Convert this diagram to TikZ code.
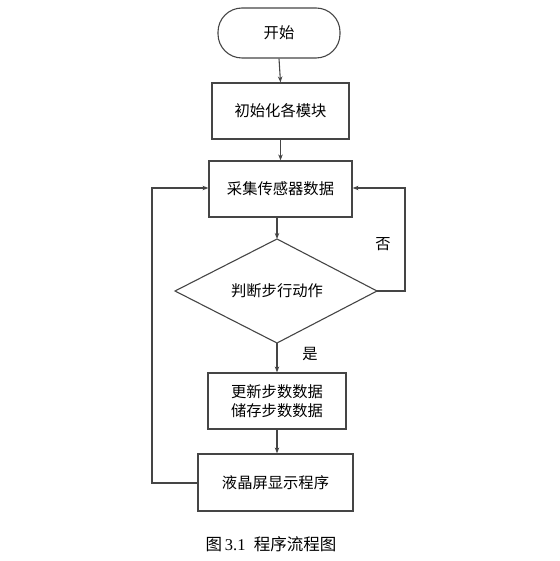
\documentclass[tikz,border=0pt]{standalone}
\usepackage{fontspec}
\setmainfont{Liberation Serif}
\newfontfamily\cjk{Noto Sans CJK SC}
\usetikzlibrary{shapes.geometric,arrows.meta}
\definecolor{lc}{HTML}{454545}
\begin{document}
\begin{tikzpicture}[x=1pt,y=-1pt,
  every node/.style={font=\cjk\fontsize{15.3}{18}\selectfont, text=black},
  box/.style={draw=lc, line width=1.2pt, minimum width=#1, minimum height=56pt, inner sep=0pt, align=center},
  term/.style={draw=lc, line width=1.1pt, rounded corners=24pt, minimum width=122pt, minimum height=50pt, inner sep=0pt},
  dia/.style={draw=lc, line width=1.1pt},
  conn/.style={draw=lc, line width=1.1pt, -{Stealth[length=6pt,width=4.5pt]}},
  lab/.style={font=\cjk\fontsize{15.3}{18}\selectfont}]
\useasboundingbox (0,0) rectangle (559,561);
\node[term] (start) at (279,33) {开始};
\node[box=137pt] (init) at (280.5,111) {初始化各模块};
\node[box=143pt] (acq) at (280.5,189) {采集传感器数据};
\coordinate (dT) at (277,239);
\coordinate (dB) at (277,343);
\coordinate (dL) at (175,291);
\coordinate (dR) at (377,291);
\draw[dia] (dT) -- (dR) -- (dB) -- (dL) -- cycle;
\node (judge) at (277,291) {判断步行动作};
\node[box=138pt, minimum height=56pt, font=\cjk\fontsize{15.3}{19.5}\selectfont] (upd) at (277,401) {更新步数数据\\储存步数数据};
\node[box=155pt, minimum height=57pt] (lcd) at (275.5,482.5) {液晶屏显示程序};
\node[lab] (no) at (383,244) {否};
\node[lab] (yes) at (310,354) {是};
\node[font=\fontsize{16.5}{18}\selectfont] (cap) at (271,544) {{\cjk 图}\,3.1\ \ {\cjk 程序流程图}};
\coordinate (rc) at (405,291);
\coordinate (rt) at (405,188);
\coordinate (lb) at (152,483);
\coordinate (lt) at (152,188);
\draw[conn] (start.south) -- (init.north);
\draw[conn] (init.south) -- (acq.north);
\draw[conn] (acq.south -| dT) -- (dT);
\draw[conn] (dB) -- (upd.north);
\draw[conn] (upd.south) -- (upd.south |- lcd.north);
\draw[conn] (dR) -- (rc) -- (rt) -- (acq.east |- rt);
\draw[conn] (lcd.west |- lb) -- (lb) -- (lt) -- (acq.west |- lt);
\end{tikzpicture}
\end{document}
